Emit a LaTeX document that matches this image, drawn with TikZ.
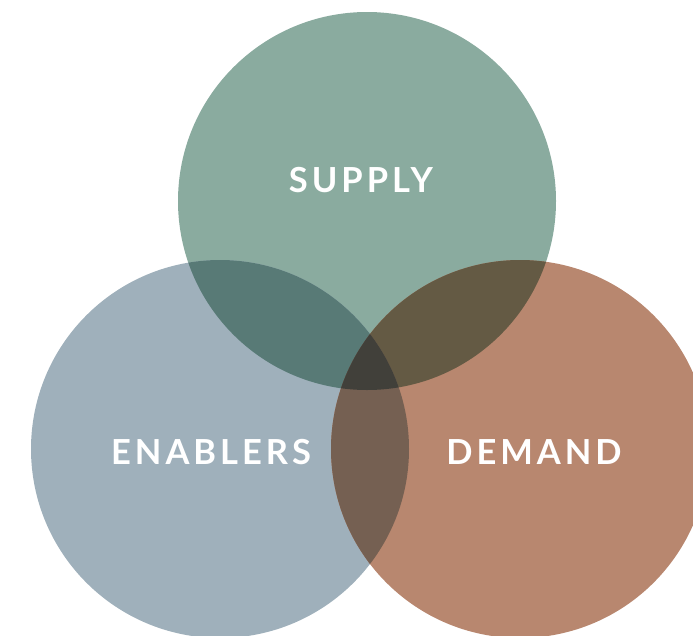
\documentclass[tikz,border=0pt]{standalone}
\usepackage{fontspec}
\setmainfont{Lato}
\newfontfamily\lbl[LetterSpace=11.5]{Lato}
\definecolor{cS}{HTML}{8AAB9F}
\definecolor{cE}{HTML}{9FB0BB}
\definecolor{cD}{HTML}{B8876F}
\definecolor{cSE}{HTML}{587A76}
\definecolor{cSD}{HTML}{645A44}
\definecolor{cED}{HTML}{756052}
\definecolor{cSED}{HTML}{41403A}
\tikzset{lab/.style={text=white,font=\lbl\fontsize{34.5}{34.5}\selectfont\bfseries,inner sep=0pt}}
\begin{document}
\begin{tikzpicture}[x=1pt,y=-1pt]
\useasboundingbox (0,0) rectangle (693,635);
\clip (0,0) rectangle (693,635);
\def\R{189}
\coordinate (s) at (367,201);
\coordinate (e) at (220,449);
\coordinate (d) at (520,449);
\fill[cS] (s) circle (\R);
\fill[cE] (e) circle (\R);
\fill[cD] (d) circle (\R);
\begin{scope}
\clip (s) circle (\R);
\fill[cSE] (e) circle (\R);
\fill[cSD] (d) circle (\R);
\end{scope}
\begin{scope}
\clip (e) circle (\R);
\fill[cED] (d) circle (\R);
\clip (d) circle (\R);
\fill[cSED] (s) circle (\R);
\end{scope}
\node[lab] (ls) at (361,180) {SUPPLY};
\node[lab] (le) at (211,452) {ENABLERS};
\node[lab] (ld) at (534,452) {DEMAND};
\end{tikzpicture}
\end{document}
